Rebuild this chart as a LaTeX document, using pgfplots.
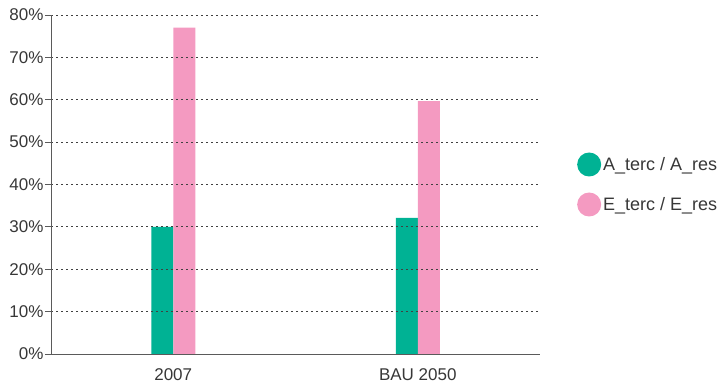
\documentclass[border=0pt]{standalone}
\usepackage{pgfplots}
\pgfplotsset{compat=1.18}
\usepackage{fontspec}
\setmainfont{Liberation Sans}
\definecolor{cgreen}{RGB}{0,178,148}
\definecolor{cpink}{RGB}{244,154,193}
\definecolor{ctext}{RGB}{55,55,55}
\definecolor{caxis}{RGB}{90,90,90}
\begin{document}
\begin{tikzpicture}
\useasboundingbox (0,0) rectangle (720bp,384bp);
\begin{axis}[
  at={(51bp,30bp)}, anchor=south west,
  scale only axis, width=489bp, height=339bp,
  xmin=-0.5, xmax=1.5, ymin=0, ymax=80,
  axis lines*=left,
  axis line style={caxis, line width=0.8bp},
  axis on top,
  ybar=0pt, bar width=22bp,
  xtick={0,1}, xticklabels={2007,BAU 2050},
  xtick style={draw=none},
  minor xtick={-0.5,0.5,1.5},
  minor tick length=10bp,
  minor x tick style={caxis, line width=0.8bp},
  ytick={0,10,20,30,40,50,60,70,80},
  yticklabels={0\%,10\%,20\%,30\%,40\%,50\%,60\%,70\%,80\%},
  major tick length=6bp,
  tick align=outside,
  y tick style={caxis, line width=0.8bp},
  ymajorgrids,
  major grid style={black!75, line width=0.8bp, dash pattern=on 2bp off 3bp},
  tick label style={font=\fontsize{17bp}{20bp}\selectfont, text=ctext},
  yticklabel style={xshift=2bp},
  xticklabel style={yshift=-5bp},
  legend style={draw=none, fill=none, at={(1,0.5)}, anchor=west, xshift=34bp,
    font=\fontsize{18bp}{21bp}\selectfont, text=ctext,
    row sep=16bp, /tikz/every even column/.append style={column sep=5bp}},
  legend cell align=left,
  legend image code/.code={\fill[#1] (0.3cm,0) circle (12bp);},
]
\addplot[fill=cgreen, draw=none] coordinates {(0,30.0) (1,32.1)};
\addplot[fill=cpink, draw=none] coordinates {(0,77.0) (1,59.7)};
\legend{A\_terc / A\_res, E\_terc / E\_res}
\end{axis}
\end{tikzpicture}
\end{document}
